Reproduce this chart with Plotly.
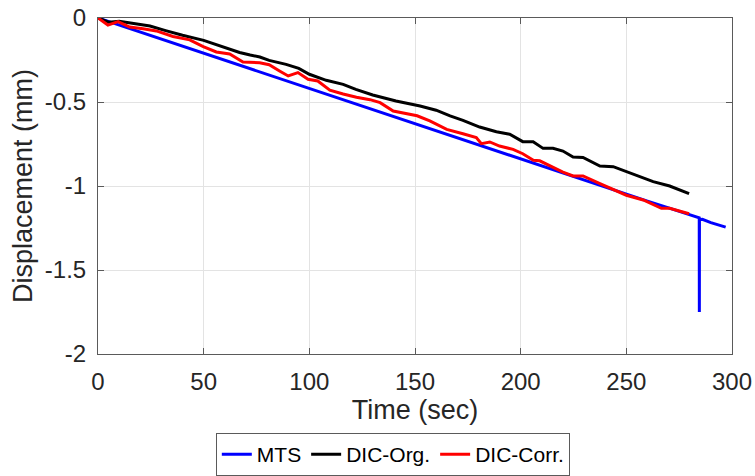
import plotly.graph_objects as go

# ---- data ----
mts_t = [0, 10, 20, 30, 40, 50, 60, 70, 80, 90, 100, 110, 120, 130, 140, 150, 160, 170, 180,
         190, 200, 210, 220, 230, 240, 250, 260, 270, 280, 284.5, 284.55, 284.6, 286, 290, 297]
mts_v = [0, -0.042, -0.084, -0.126, -0.168, -0.21, -0.25, -0.29, -0.335, -0.377, -0.42, -0.462,
         -0.504, -0.546, -0.588, -0.63, -0.672, -0.714, -0.756, -0.798, -0.84, -0.882, -0.924,
         -0.966, -1.005, -1.05, -1.09, -1.13, -1.173, -1.19, -1.75, -1.20, -1.198, -1.218, -1.245]

org_t = [0, 5, 10, 17, 24.6, 32, 40, 50, 58, 67, 72, 76.6, 81, 89, 95, 100, 108, 116, 122, 130,
         141, 152.4, 160, 166.6, 172.7, 180.6, 188.5, 194.8, 201, 205.9, 210.6, 215.3, 220,
         224.8, 229.5, 237.5, 243.8, 253.2, 262.7, 270.5, 279.7]
org_v = [0, -0.025, -0.02, -0.035, -0.048, -0.075, -0.103, -0.133, -0.165, -0.205, -0.22,
         -0.232, -0.252, -0.276, -0.30, -0.335, -0.371, -0.395, -0.425, -0.458, -0.494, -0.524,
         -0.549, -0.583, -0.609, -0.649, -0.677, -0.692, -0.736, -0.736, -0.776, -0.776, -0.792,
         -0.827, -0.83, -0.881, -0.885, -0.93, -0.974, -1.0, -1.046]

corr_t = [0, 4.7, 9.5, 15, 21.3, 27.6, 35.5, 43.4, 49.8, 56, 62.3, 68.6, 76.5, 81, 85.9, 90,
          94.6, 99.4, 104, 109.7, 116, 122.3, 128.7, 133.5, 139.7, 147.7, 151, 157, 165, 172.7,
          179, 181.4, 185.4, 190, 196.4, 201, 206, 209, 213.8, 220, 224.8, 229.5, 237.5, 250,
          258, 266.6, 270.5, 279.7]
corr_v = [0, -0.042, -0.022, -0.054, -0.064, -0.077, -0.11, -0.13, -0.17, -0.202, -0.214,
          -0.262, -0.266, -0.278, -0.315, -0.345, -0.325, -0.365, -0.375, -0.43, -0.452, -0.472,
          -0.486, -0.504, -0.554, -0.573, -0.582, -0.613, -0.663, -0.689, -0.712, -0.748,
          -0.738, -0.762, -0.782, -0.808, -0.847, -0.85, -0.881, -0.917, -0.94, -0.94, -0.986,
          -1.055, -1.083, -1.133, -1.133, -1.165]

x_ticks = [0, 50, 100, 150, 200, 250, 300]
x_ticktext = ["0", "50", "100", "150", "200", "250", "300"]
y_ticks = [0, -0.5, -1, -1.5, -2]
y_ticktext = ["0", "-0.5", "-1", "-1.5", "-2"]

FONT = "Liberation Sans, Arial, sans-serif"
TXT = "#262626"
AX = "#5a5a5a"

fig = go.Figure()
fig.add_trace(go.Scatter(x=mts_t, y=mts_v, mode="lines", name="MTS",
                         line=dict(color="#0000ff", width=3)))
fig.add_trace(go.Scatter(x=org_t, y=org_v, mode="lines", name="DIC-Org.",
                         line=dict(color="#000000", width=3)))
fig.add_trace(go.Scatter(x=corr_t, y=corr_v, mode="lines", name="DIC-Corr.",
                         line=dict(color="#ff0000", width=3)))

axis_common = dict(showline=True, linecolor=AX, linewidth=1, mirror="allticks",
                   ticks="inside", ticklen=6, tickcolor=AX, showgrid=True,
                   gridcolor="#e3e3e3", gridwidth=1, zeroline=False, automargin=False,
                   tickfont=dict(family=FONT, size=24, color=TXT))

fig.update_layout(
    width=755, height=476,
    margin=dict(l=98, r=23, t=18, b=122),
    paper_bgcolor="white", plot_bgcolor="white",
    showlegend=True,
    legend=dict(orientation="h", x=0.465, xanchor="center",
                yref="container", y=0.0, yanchor="bottom",
                bordercolor=AX, borderwidth=1, bgcolor="white",
                font=dict(family=FONT, size=21, color="#000000"),
                itemwidth=30, tracegroupgap=0),
    xaxis=dict(range=[0, 300], tickvals=x_ticks, ticktext=x_ticktext,
               title=dict(text="Time (sec)", font=dict(family=FONT, size=27, color=TXT),
                          standoff=4),
               ticklabelstandoff=6, **axis_common),
    yaxis=dict(range=[-2, 0], tickvals=y_ticks, ticktext=y_ticktext,
               title=dict(text="Displacement (mm)", font=dict(family=FONT, size=27, color=TXT),
                          standoff=4),
               ticklabelstandoff=6, **axis_common),
)

fig.write_html("out.html")
